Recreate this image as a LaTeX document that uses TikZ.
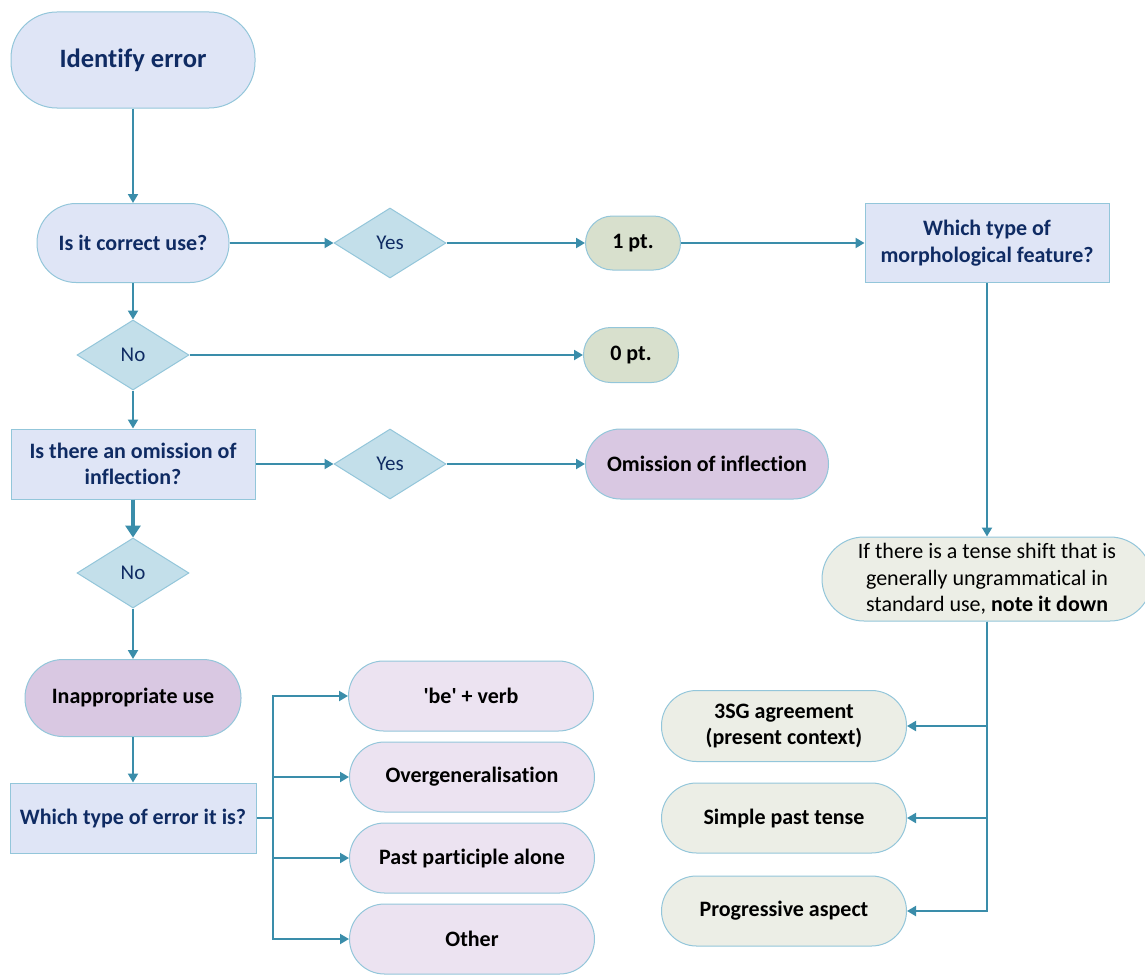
\documentclass[tikz,border=0pt]{standalone}
\usepackage{fontspec}
\setmainfont{Carlito}[Ligatures=NoCommon]
\usetikzlibrary{arrows.meta,shapes.geometric}
\definecolor{ln}{HTML}{3A8DAA}
\definecolor{bd}{HTML}{93C6DA}
\definecolor{bluef}{HTML}{DFE5F6}
\definecolor{diaf}{HTML}{C3DFEA}
\definecolor{greenf}{HTML}{D8E0CD}
\definecolor{paleg}{HTML}{ECEEE6}
\definecolor{purf}{HTML}{D9C8E2}
\definecolor{palep}{HTML}{ECE3F1}
\definecolor{navy}{HTML}{0F2B63}
\tikzset{
  base/.style={draw=bd, line width=1pt, inner sep=0pt, align=center,
    font=\fontsize{22}{26.5}\selectfont\bfseries},
  bluebox/.style={base, fill=bluef, text=navy},
  pill/.style={rounded corners=#1},
  dia/.style={diamond, draw=bd, line width=1pt, fill=diaf, inner sep=0pt,
    minimum width=112pt, minimum height=70pt, text=navy,
    font=\fontsize{21}{25}\selectfont},
  arr/.style={draw=ln, line width=2pt, -{Triangle[width=10pt,length=9pt]}},
  plain/.style={draw=ln, line width=2pt},
}
\begin{document}
\begin{tikzpicture}[x=1pt,y=-1pt]
\useasboundingbox (0,0) rectangle (1145,974);
\clip (0,0) rectangle (1145,974);
% left column
\node[bluebox,pill=46pt,minimum width=244pt,minimum height=96pt,
  font=\fontsize{26.5}{31}\selectfont\bfseries] (ie) at (133,60) {Identify error};
\node[bluebox,pill=39pt,minimum width=192pt,minimum height=79pt] (cu) at (133,243) {Is it correct use?};
\node[dia] (y1) at (390,243) {Yes};
\node[base,fill=greenf,pill=27pt,minimum width=95pt,minimum height=54pt] (p1) at (633,243) {1 pt.};
\node[bluebox,minimum width=244pt,minimum height=79pt] (mf) at (987,243) {Which type of\\morphological feature?};
\node[dia] (n1) at (133,355) {No};
\node[base,fill=greenf,pill=27pt,minimum width=95pt,minimum height=55pt] (p0) at (631,355) {0 pt.};
\node[bluebox,minimum width=244pt,minimum height=70pt] (om) at (133,464) {Is there an omission of\\inflection?};
\node[dia] (y2) at (390,464) {Yes};
\node[base,fill=purf,pill=35pt,minimum width=243pt,minimum height=70pt] (oi) at (707,464) {Omission of inflection};
\node[dia] (n2) at (133,573) {No};
\node[base,fill=purf,pill=38pt,minimum width=216pt,minimum height=77pt] (iu) at (133,698) {Inappropriate use};
\node[bluebox,minimum width=246pt,minimum height=70pt] (wt) at (133,818) {Which type of error it is?};
% error types
\node[base,fill=palep,pill=35pt,minimum width=245pt,minimum height=70pt] (bv) at (471,696) {\textquotesingle be\textquotesingle{} + verb};
\node[base,fill=palep,pill=35pt,minimum width=245pt,minimum height=70pt] (og) at (472,777) {Overgeneralisation};
\node[base,fill=palep,pill=35pt,minimum width=245pt,minimum height=70pt] (pp) at (472,858) {Past participle alone};
\node[base,fill=palep,pill=35pt,minimum width=245pt,minimum height=70pt] (ot) at (472,939) {Other};
% right column
\node[base,fill=paleg,pill=42pt,minimum width=330pt,minimum height=84pt,
  font=\fontsize{22}{26.5}\selectfont] (ifb) at (987,579) {If there is a tense shift that is\\generally ungrammatical in\\standard use, \textbf{note it down}};
\node[base,fill=paleg,pill=35pt,minimum width=245pt,minimum height=71pt] (sg) at (784,726) {3SG agreement\\(present context)};
\node[base,fill=paleg,pill=35pt,minimum width=245pt,minimum height=70pt] (sp) at (784,818) {Simple past tense};
\node[base,fill=paleg,pill=35pt,minimum width=245pt,minimum height=70pt] (pa) at (784,911) {Progressive aspect};
\coordinate (tr) at (273,818);
% connectors
\draw[arr] (ie) -- (cu);
\draw[arr] (cu) -- (y1);
\draw[arr] (y1) -- (p1);
\draw[arr] (p1) -- (mf);
\draw[arr] (cu) -- (n1);
\draw[arr] (n1) -- (p0);
\draw[arr] (n1) -- (om);
\draw[arr] (om) -- (y2);
\draw[arr] (y2) -- (oi);
\draw[draw=ln, line width=4pt, -{Triangle[width=15pt,length=12pt]}] (om) -- (n2);
\draw[arr] (n2) -- (iu);
\draw[arr] (iu) -- (wt);
\draw[plain] (wt.east) -- (tr);
\draw[arr] (tr) |- (bv);
\draw[arr] (tr) |- (og);
\draw[arr] (tr) |- (pp);
\draw[arr] (tr) |- (ot);
\draw[arr] (mf) -- (ifb);
\draw[arr] (ifb.south) |- (sg);
\draw[arr] (ifb.south) |- (sp);
\draw[arr] (ifb.south) |- (pa);
\end{tikzpicture}
\end{document}
